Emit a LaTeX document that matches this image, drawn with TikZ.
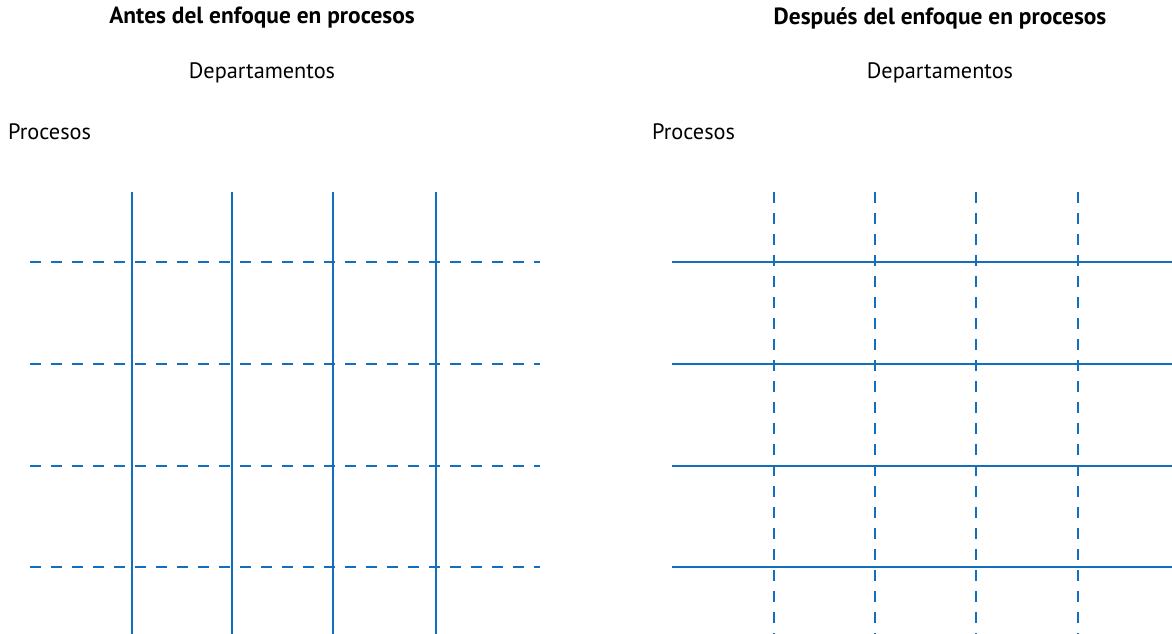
\documentclass[tikz,border=0pt]{standalone}
\usepackage{fontspec}
\setmainfont{PT Sans}
\usepackage{tikz}
\usetikzlibrary{positioning}
\definecolor{pblue}{RGB}{20, 110, 190}

\tikzset{
  solidline/.style={pblue, line width=2.4pt},
  dashline/.style={pblue, line width=2.4pt, dash pattern=on 11pt off 10pt},
  title/.style={font=\fontsize{23.4}{28}\selectfont\bfseries, inner sep=0pt},
  label/.style={font=\fontsize{22.3}{27}\selectfont, inner sep=0pt}
}

\begin{document}
\begin{tikzpicture}[x=1pt, y=-1pt]
    \useasboundingbox (0, 0) rectangle (1172, 634);

    % antes
    \node[title] (antes) at (262, 18) {Antes del enfoque en procesos};
    \node[label] (deptA) at (262, 73) {Departamentos};
    \node[label, anchor=west] (procA) at (8, 132) {Procesos};

    \draw[solidline] (132, 192) -- (132, 634);
    \draw[solidline] (232, 192) -- (232, 634);
    \draw[solidline] (333, 192) -- (333, 634);
    \draw[solidline] (436, 192) -- (436, 634);

    \draw[dashline] (30, 262) -- (540, 262);
    \draw[dashline] (30, 364) -- (540, 364);
    \draw[dashline] (30, 466) -- (540, 466);
    \draw[dashline] (30, 567) -- (540, 567);

    % despues
    \node[title] (despues) at (940, 18) {Después del enfoque en procesos};
    \node[label] (deptB) at (940, 73) {Departamentos};
    \node[label, anchor=west] (procB) at (652, 132) {Procesos};

    \draw[dashline] (774, 192) -- (774, 634);
    \draw[dashline] (875, 192) -- (875, 634);
    \draw[dashline] (976, 192) -- (976, 634);
    \draw[dashline] (1078, 192) -- (1078, 634);

    \draw[solidline] (672, 262) -- (1172, 262);
    \draw[solidline] (672, 364) -- (1172, 364);
    \draw[solidline] (672, 466) -- (1172, 466);
    \draw[solidline] (672, 567) -- (1172, 567);
  \end{tikzpicture}
\end{document}
